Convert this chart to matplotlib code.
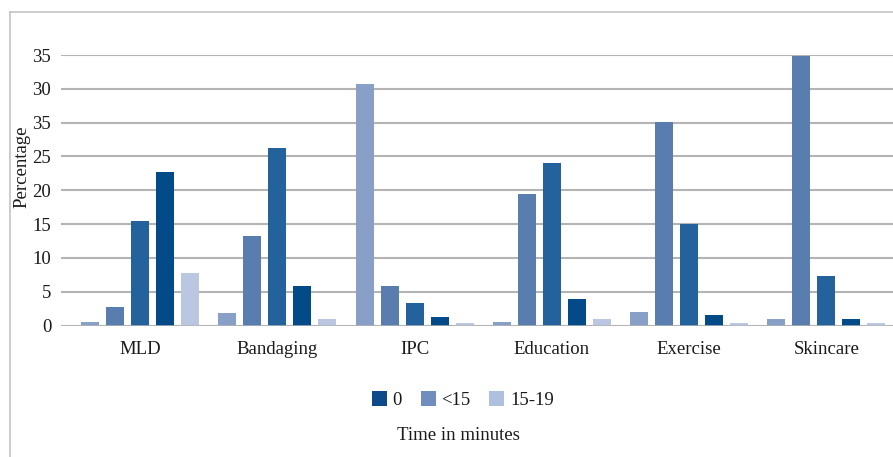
import matplotlib
matplotlib.use("Agg")
import matplotlib.pyplot as plt
from matplotlib.lines import Line2D
from matplotlib.patches import Patch
import numpy as np

plt.rcParams['font.family'] = ['Liberation Serif', 'DejaVu Serif']

categories = ["MLD", "Bandaging", "IPC", "Education", "Exercise", "Skincare"]
series_a = [0.5, 1.9, 35.7, 0.5, 2.0, 0.9]
series_b = [2.7, 13.2, 5.9, 19.4, 30.1, 39.9]
series_c = [15.4, 26.2, 3.3, 24.1, 15.0, 7.3]
series_d = [22.7, 5.9, 1.3, 3.9, 1.6, 0.9]
series_e = [7.7, 0.9, 0.4, 1.0, 0.4, 0.4]
tick_values = [0, 5, 10, 15, 20, 25, 30, 35, 40]
tick_labels = ["0", "5", "10", "15", "20", "25", "35", "30", "35"]
legend_labels = ["0", "<15", "15-19"]

series = [series_a, series_b, series_c, series_d, series_e]
colors = ["#889FC8", "#5A7DB0", "#23629C", "#034A89", "#BBC7E0"]
legend_colors = ["#0D4A8A", "#6F8DBE", "#AFC0DE"]

W, H = 893, 457
fig = plt.figure(figsize=(W / 100, H / 100), dpi=100)
left, right, top, bottom = 61, 893, 55, 325.5
ax = fig.add_axes([left / W, 1 - bottom / H, (right - left) / W, (bottom - top) / H])

x = np.arange(len(categories))
step = 0.182
width = 0.131
for i, (vals, c) in enumerate(zip(series, colors)):
    ax.bar(x + (i - 2) * step, vals, width=width, color=c, zorder=3)

ax.set_xlim(-0.577, 5.485)
ax.set_ylim(0, 40)
ax.set_yticks(tick_values)
ax.set_yticklabels(tick_labels)
ax.set_xticks(x)
ax.set_xticklabels(categories)
ax.yaxis.grid(True, color="#b4b4b4", linewidth=1.5, zorder=0)
for s in ax.spines.values():
    s.set_visible(False)
ax.tick_params(axis='both', length=0, labelsize=13.5, colors="#1a1a1a")
ax.tick_params(axis='y', pad=7)
ax.tick_params(axis='x', pad=11)
ax.axhline(0, color="#b4b4b4", linewidth=1.8, zorder=4)

fig.text(22 / W, 1 - 167 / H, "Percentage", rotation=90, ha='center', va='center',
         fontsize=13.5, color="#1a1a1a")

handles = [Patch(facecolor=c, edgecolor='none') for c in legend_colors]
fig.legend(handles, legend_labels, loc='center', bbox_to_anchor=(463 / W, 1 - 400 / H),
           ncol=3, frameon=False, fontsize=13.5, handlelength=0.8, handleheight=0.8,
           handletextpad=0.3, columnspacing=1.0, labelcolor="#1a1a1a")
fig.text(458 / W, 1 - 435 / H, "Time in minutes", ha='center', va='center',
         fontsize=13.5, color="#1a1a1a")

fig.add_artist(Line2D([9.5 / W, 9.5 / W], [0, 1 - 12 / H], color="#c4c4c4", linewidth=1.2))
fig.add_artist(Line2D([9.5 / W, 1], [1 - 12 / H, 1 - 12 / H], color="#c4c4c4", linewidth=1.2))

fig.savefig("out.png", dpi=100)
